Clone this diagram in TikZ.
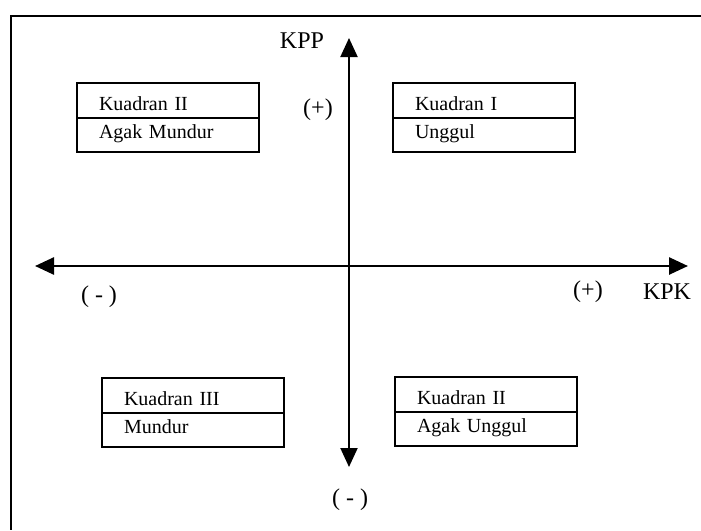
\documentclass[tikz,border=0pt]{standalone}
\usepackage{fontspec}
\setmainfont{Liberation Serif}
\usepackage{tikz}
\usetikzlibrary{arrows.meta, positioning}

\begin{document}
\begin{tikzpicture}[
    x=1pt, y=-1pt,
    cellup/.style={
        draw=black,
        line width=2pt,
        outer sep=0pt,
        inner xsep=22pt,
        text width=138pt,
        align=left,
        minimum height=35pt,
        text height=20pt,
        text depth=0pt,
        font=\fontsize{20}{24}\selectfont
    },
    celldown/.style={
        draw=black,
        line width=2pt,
        outer sep=0pt,
        inner xsep=22pt,
        text width=138pt,
        align=left,
        minimum height=34pt,
        text height=12pt,
        text depth=5pt,
        font=\fontsize{20}{24}\selectfont
    },
    sign/.style={
        inner sep=0pt,
        font=\fontsize{24}{28}\selectfont
    },
    axis/.style={
        {Triangle[length=19pt,width=17pt]}-{Triangle[length=19pt,width=17pt]},
        line width=2pt,
        draw=black
    },
    frame/.style={
        line width=2pt,
        draw=black
    }
]
\useasboundingbox (0,0) rectangle (701,530);

% Frame
\draw [frame] (701,16) -| (11,530);

% Nodes
\node (q2top) [cellup, anchor=north west] at (77,83) {Kuadran II};
\node (q2bot) [celldown, below=0pt of q2top] {Agak Mundur};
\node (q1top) [cellup, anchor=north west] at (393,83) {Kuadran I};
\node (q1bot) [celldown, below=0pt of q1top] {Unggul};
\node (q3top) [cellup, anchor=north west] at (102,378) {Kuadran III};
\node (q3bot) [celldown, below=0pt of q3top] {Mundur};
\node (q4top) [cellup, anchor=north west] at (395,377) {Kuadran II};
\node (q4bot) [celldown, below=0pt of q4top] {Agak Unggul};

\coordinate (ytop) at (349,38);
\coordinate (ybot) at (349,467);
\coordinate (xleft) at (35,266);
\coordinate (xright) at (688,266);

\node (kpp) [sign] at (302,41) {KPP};
\node (yplus) [sign] at (318,110) {(+)};
\node (yminus) [sign] at (350,500) {( - )};
\node (xminus) [sign] at (99,297) {( - )};
\node (xplus) [sign] at (588,292) {(+)};
\node (kpk) [sign] at (667,292) {KPK};

% Paths
\draw [axis] (ybot) -- (ytop);
\draw [axis, line width=2.6pt] (xleft) -- (xright);

\end{tikzpicture}
\end{document}
